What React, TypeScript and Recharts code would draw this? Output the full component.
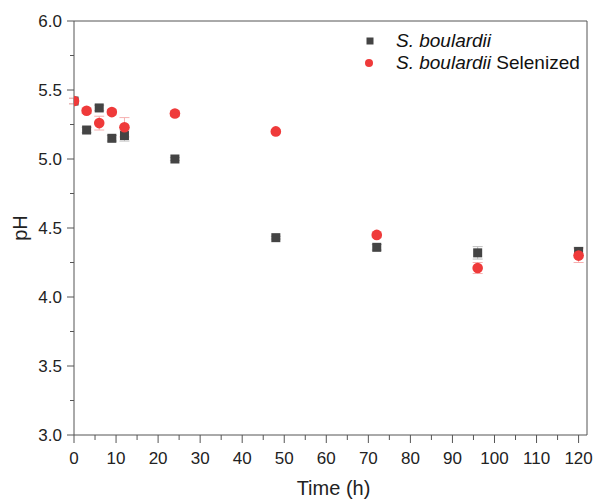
import { ErrorBar, Legend, ReferenceLine, Scatter, ScatterChart, XAxis, YAxis } from 'recharts'

const FONT = '"Liberation Sans", Arial, sans-serif'
const AXIS = '#555555'
const INK = '#222222'
const SB_COLOR = '#444444'
const SEL_COLOR = '#ef3a3a'

// sampling times (h)
const times = [0, 3, 6, 9, 12, 24, 48, 72, 96, 120]

// S. boulardii
const sbMean = [5.42, 5.21, 5.37, 5.15, 5.17, 5.0, 4.43, 4.36, 4.32, 4.33]
const sbErr = [0.02, 0.02, 0.02, 0.02, 0.04, 0.01, 0.01, 0.02, 0.045, 0.03]

// S. boulardii Selenized
const selMean = [5.42, 5.35, 5.26, 5.34, 5.23, 5.33, 5.2, 4.45, 4.21, 4.3]
const selErr = [0.02, 0.02, 0.05, 0.02, 0.07, 0.02, 0.01, 0.02, 0.04, 0.05]

const xTicks = [0, 5, 10, 15, 20, 25, 30, 35, 40, 45, 50, 55, 60, 65, 70, 75, 80, 85, 90, 95, 100, 105, 110, 115, 120]
const yTicks = [3, 3.25, 3.5, 3.75, 4, 4.25, 4.5, 4.75, 5, 5.25, 5.5, 5.75, 6]

const sbRows = times.map((t, i) => ({ t, y: sbMean[i], err: sbErr[i] }))
const selRows = times.map((t, i) => ({ t, y: selMean[i], err: selErr[i] }))

function XTick({ x, y, payload }: any) {
  const v = payload.value as number
  const major = v % 10 === 0
  return (
    <g>
      <line x1={x} x2={x} y1={y} y2={y + (major ? 8 : 5)} stroke={AXIS} strokeWidth={1} />
      {major && (
        <text x={x} y={y + 29} textAnchor="middle" fontSize={17} fontFamily={FONT} fill={INK}>
          {v}
        </text>
      )}
    </g>
  )
}

function YTick({ x, y, payload }: any) {
  const v = payload.value as number
  const major = Math.abs(v * 2 - Math.round(v * 2)) < 1e-6
  return (
    <g>
      <line x1={x} x2={x - (major ? 7 : 4)} y1={y} y2={y} stroke={AXIS} strokeWidth={1} />
      {major && (
        <text x={x - 12} y={y + 6} textAnchor="end" fontSize={17} fontFamily={FONT} fill={INK}>
          {v.toFixed(1)}
        </text>
      )}
    </g>
  )
}

function PhLabel({ viewBox }: any) {
  const cy = viewBox.y + viewBox.height / 2
  return (
    <text
      x={20}
      y={cy}
      transform={`rotate(-90 20 ${cy})`}
      textAnchor="middle"
      dominantBaseline="central"
      fontSize={20}
      fontFamily={FONT}
      fill={INK}
    >
      pH
    </text>
  )
}

function TimeLabel({ viewBox }: any) {
  const cx = viewBox.x + viewBox.width / 2 + 3
  return (
    <text x={cx} y={495} textAnchor="middle" fontSize={20} fontFamily={FONT} fill={INK}>
      Time (h)
    </text>
  )
}

function Square({ cx, cy }: any) {
  return <rect x={cx - 4.5} y={cy - 4.5} width={9} height={9} fill={SB_COLOR} />
}

function Dot({ cx, cy }: any) {
  return <circle cx={cx} cy={cy} r={5.3} fill={SEL_COLOR} />
}

function Hidden() {
  return <g />
}

function LegendBox() {
  const row = { display: 'flex', alignItems: 'center', height: 22 } as const
  return (
    <div style={{ fontFamily: FONT, fontSize: 19, color: '#111', lineHeight: '22px' }}>
      <div style={row}>
        <svg width={34} height={22}>
          <rect x={4.5} y={7.5} width={7} height={7} fill={SB_COLOR} />
        </svg>
        <span style={{ fontStyle: 'italic' }}>S. boulardii</span>
      </div>
      <div style={row}>
        <svg width={34} height={22}>
          <circle cx={7} cy={11} r={4} fill={SEL_COLOR} />
        </svg>
        <span>
          <i>S. boulardii</i> Selenized
        </span>
      </div>
    </div>
  )
}

export default function App() {
  return (
    <div style={{ position: 'absolute', left: 0, top: 0, width: 595, height: 500, background: '#fff' }}>
      <ScatterChart width={595} height={500} margin={{ top: 21, right: 8, bottom: 0, left: 0 }}>
        <XAxis
          type="number"
          dataKey="t"
          domain={[0, 122]}
          ticks={xTicks}
          interval={0}
          tickSize={0}
          tickMargin={0}
          tickLine={false}
          tick={<XTick />}
          height={65}
          stroke={AXIS}
          allowDataOverflow
          label={<TimeLabel />}
        />
        <YAxis
          type="number"
          dataKey="y"
          domain={[3, 6]}
          ticks={yTicks}
          interval={0}
          tickSize={0}
          tickMargin={0}
          tickLine={false}
          tick={<YTick />}
          width={74}
          stroke={AXIS}
          allowDataOverflow
          label={<PhLabel />}
        />
        <ReferenceLine y={6} stroke={AXIS} />
        <ReferenceLine x={122} stroke={AXIS} />
        <Legend
          layout="horizontal"
          verticalAlign="middle"
          align="center"
          content={<LegendBox />}
          wrapperStyle={{ top: 30, left: 362, width: 232, height: 44 }}
        />
        {/* error bars first so they sit behind the markers */}
        <Scatter data={sbRows} shape={<Hidden />} legendType="none" isAnimationActive={false}>
          <ErrorBar dataKey="err" direction="y" width={5} stroke="#bdbdbd" strokeWidth={1} />
        </Scatter>
        <Scatter data={selRows} shape={<Hidden />} legendType="none" isAnimationActive={false}>
          <ErrorBar dataKey="err" direction="y" width={5} stroke="#f6b0b0" strokeWidth={1} />
        </Scatter>
        <Scatter name="S. boulardii" data={sbRows} shape={<Square />} isAnimationActive={false} />
        <Scatter name="S. boulardii Selenized" data={selRows} shape={<Dot />} isAnimationActive={false} />
      </ScatterChart>
    </div>
  )
}
